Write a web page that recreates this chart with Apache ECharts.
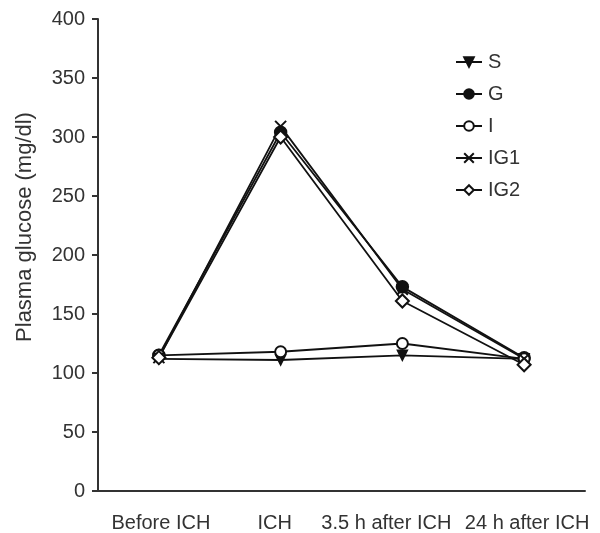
<!DOCTYPE html>
<html><head><meta charset="utf-8">
<script src="https://cdn.jsdelivr.net/npm/echarts@6/dist/echarts.min.js"></script>
<style>html,body{margin:0;padding:0;background:#fff}#c{width:600px;height:533px}</style>
</head><body><div id="c"></div>
<script>
var categories = ['Before ICH', 'ICH', '3.5 h after ICH', '24 h after ICH'];
var seriesS = [112, 111, 115, 112];
var seriesG = [115, 304, 173, 113];
var seriesI = [115, 118, 125, 112];
var seriesIG1 = [113, 309, 171, 112];
var seriesIG2 = [113, 300, 161, 107];
var yTicks = [0, 50, 100, 150, 200, 250, 300, 350, 400];
var yTitle = 'Plasma glucose (mg/dl)';

var FONT = '"Liberation Sans", Arial, sans-serif';
// label nudges (style only): [top, right, bottom, left] padding per category label
var labelPads = [[0, 0, 0, 4], [0, 12, 0, 0], [0, 32, 0, 0], [0, 0, 0, 6]];
var xData = categories.map(function (c, i) { return { value: c, textStyle: { padding: labelPads[i] } }; });

function mk(name, data, symbol, size, extra) {
  return Object.assign({
    name: name, type: 'line', data: data, symbol: symbol, symbolSize: size,
    showAllSymbol: true,
    lineStyle: { color: '#111', width: 1.8 },
    itemStyle: { color: '#111', borderColor: '#111', borderWidth: 1.5 },
    z: 2
  }, extra || {});
}
var chart = echarts.init(document.getElementById('c'));
chart.setOption({
  animation: false,
  backgroundColor: '#fff',
  grid: { left: 98, right: 15, top: 19, bottom: 41 },
  legend: {
    orient: 'vertical', left: 450, top: 47, itemGap: 12, itemWidth: 26, itemHeight: 12,
    textStyle: { fontFamily: FONT, fontSize: 20, color: '#333', padding: [0, 0, 0, 1] },
    data: ['S', 'G', 'I', 'IG1', 'IG2']
  },
  graphic: [{
    type: 'text', x: 25, y: 227, rotation: Math.PI / 2,
    style: { text: yTitle, font: '22px ' + FONT, fill: '#333', textAlign: 'center', textVerticalAlign: 'middle' }
  }],
  xAxis: {
    type: 'category', data: xData, boundaryGap: true,
    axisLine: { lineStyle: { color: '#333', width: 2 } },
    axisTick: { alignWithLabel: true, length: 6, lineStyle: { color: '#333', width: 2 } },
    axisLabel: { fontFamily: FONT, fontSize: 20, color: '#333', margin: 22, interval: 0 }
  },
  yAxis: {
    type: 'value', min: yTicks[0], max: yTicks[yTicks.length - 1], interval: 50,
    splitLine: { show: false },
    axisLine: { show: true, lineStyle: { color: '#333', width: 2 } },
    axisTick: { show: true, length: 6, lineStyle: { color: '#333', width: 2 } },
    axisLabel: { fontFamily: FONT, fontSize: 20, color: '#333', margin: 13 }
  },
  series: [
    mk('S', seriesS, 'triangle', 10, { symbolRotate: 180 }),
    mk('G', seriesG, 'circle', 12),
    mk('I', seriesI, 'emptyCircle', 11),
    mk('IG1', seriesIG1, 'path://M0,0L10,10M10,0L0,10', 11, { itemStyle: { color: '#111', borderColor: '#111', borderWidth: 2 } }),
    mk('IG2', seriesIG2, 'emptyDiamond', 13)
  ]
});
</script></body></html>
